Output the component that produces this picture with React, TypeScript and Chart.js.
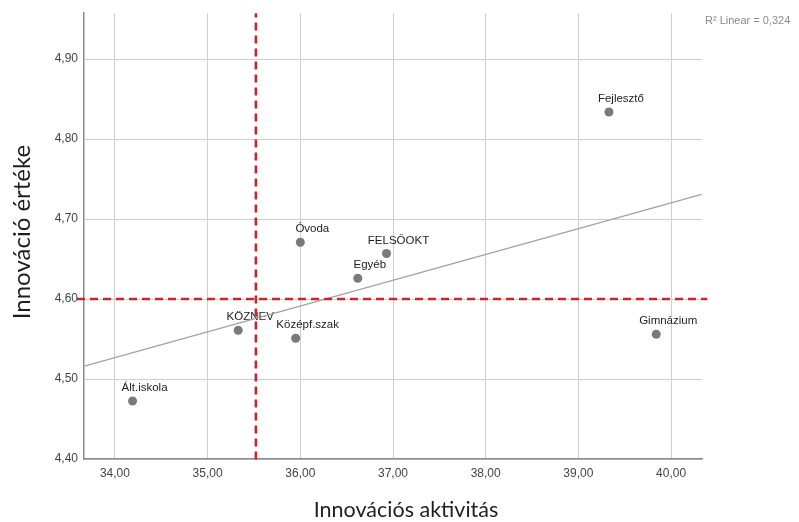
import React, { useEffect, useRef } from "react";
import { Chart, registerables } from "chart.js";

Chart.register(...registerables);

const groupLabels = ["Fejlesztő", "Óvoda", "FELSŐOKT", "Egyéb", "KÖZNEV", "Középf.szak", "Ált.iskola", "Gimnázium"];
const innovActivity = [39.33, 36.0, 36.93, 36.62, 35.33, 35.95, 34.19, 39.84];
const innovValue = [4.834, 4.671, 4.657, 4.626, 4.561, 4.551, 4.4725, 4.556];

const fitLineX = [33.67, 40.33];
const fitLineY = [4.516, 4.731];

const refMeanX = 35.52;
const refMeanY = 4.6;
const refLineYExtentX = [33.59, 40.39];
const refLineXExtentY = [4.3995, 4.9575];

const xTickValues = [34, 35, 36, 37, 38, 39, 40];
const yTickValues = [4.4, 4.5, 4.6, 4.7, 4.8, 4.9];
const xRange = [33.666, 40.334];
const yRange = [4.4, 4.9575];

const xTitle = "Innovációs aktivitás";
const yTitle = "Innováció értéke";
const r2Text = "R² Linear = 0,324";

const fmt = (v: number) => v.toFixed(2).replace(".", ",");

export default function App() {
  const ref = useRef<HTMLCanvasElement | null>(null);
  useEffect(() => {
    document.body.style.margin = "0";
    const canvas = ref.current!;
    const labelPlugin = {
      id: "labels",
      beforeDatasetsDraw(chart: any) {
        const ctx = chart.ctx;
        const meta = chart.getDatasetMeta(0);
        ctx.save();
        ctx.font = "11.5px 'Liberation Sans', Arial, sans-serif";
        ctx.fillStyle = "#222";
        ctx.textAlign = "center";
        ctx.textBaseline = "middle";
        meta.data.forEach((pt: any, i: number) => {
          ctx.fillText(groupLabels[i], pt.x + 12, pt.y - 13);
        });
        ctx.restore();
      },
      afterDraw(chart: any) {
        const ctx = chart.ctx;
        ctx.save();
        ctx.fillStyle = "#1e1e1e";
        ctx.textAlign = "center";
        ctx.textBaseline = "middle";
        ctx.font = "21.5px Lato, 'Open Sans', sans-serif";
        ctx.fillText(xTitle, 406, 510);
        ctx.save();
        ctx.translate(22, 232);
        ctx.rotate(-Math.PI / 2);
        ctx.font = "24px Lato, 'Open Sans', sans-serif";
        ctx.fillText(yTitle, 0, 0);
        ctx.restore();
        ctx.fillStyle = "#8a8a8a";
        ctx.font = "11px 'Liberation Sans', Arial, sans-serif";
        ctx.textAlign = "left";
        ctx.fillText(r2Text, 705, 21);
        ctx.restore();
      },
    };
    const chart = new Chart(canvas, {
      type: "scatter",
      data: {
        datasets: [
          {
            label: "groups",
            data: innovActivity.map((x, i) => ({ x, y: innovValue[i] })),
            backgroundColor: "#7a7a7a",
            borderWidth: 0,
            pointRadius: 4.5,
            order: 1,
          },
          {
            label: "fit",
            data: fitLineX.map((x, i) => ({ x, y: fitLineY[i] })),
            showLine: true,
            borderColor: "#a2a2a2",
            borderWidth: 1.3,
            pointRadius: 0,
            order: 3,
          },
          {
            label: "meanY",
            data: refLineYExtentX.map((x) => ({ x, y: refMeanY })),
            showLine: true,
            borderColor: "#c9252b",
            borderWidth: 2.5,
            borderDash: [8, 5],
            pointRadius: 0,
            clip: false as any,
            order: 0,
          },
          {
            label: "meanX",
            data: refLineXExtentY.map((y) => ({ x: refMeanX, y })),
            showLine: true,
            borderColor: "#c9252b",
            borderWidth: 2.5,
            borderDash: [8, 5],
            pointRadius: 0,
            clip: false as any,
            order: 0,
          },
        ],
      },
      options: {
        animation: false,
        responsive: false,
        layout: { padding: { top: 13, right: 97, left: 0, bottom: 0 } },
        plugins: { legend: { display: false }, tooltip: { enabled: false } },
        scales: {
          x: {
            type: "linear",
            min: xRange[0],
            max: xRange[1],
            afterBuildTicks: (s: any) => {
              s.ticks = xTickValues.map((v) => ({ value: v }));
            },
            afterFit: (s: any) => {
              s.height = 63;
            },
            grid: { color: "#cfcfcf", lineWidth: 1, drawTicks: false },
            border: { color: "#8c8c8c", width: 1.5 },
            ticks: {
              padding: 7,
              color: "#444",
              font: { family: "'Liberation Sans', Arial, sans-serif", size: 12 },
              callback: (v: any) => fmt(Number(v)),
              maxRotation: 0,
              autoSkip: false,
            },
          },
          y: {
            type: "linear",
            min: yRange[0],
            max: yRange[1],
            afterBuildTicks: (s: any) => {
              s.ticks = yTickValues.map((v) => ({ value: v }));
            },
            afterFit: (s: any) => {
              s.width = 84;
            },
            grid: { color: "#cfcfcf", lineWidth: 1, drawTicks: false },
            border: { color: "#8c8c8c", width: 1.5 },
            ticks: {
              padding: 6,
              color: "#444",
              font: { family: "'Liberation Sans', Arial, sans-serif", size: 12 },
              callback: (v: any) => fmt(Number(v)),
              autoSkip: false,
            },
          },
        },
      },
      plugins: [labelPlugin],
    });
    return () => chart.destroy();
  }, []);
  return (
    <div style={{ width: 799, height: 522, background: "#fff" }}>
      <canvas ref={ref} width={799} height={522} />
    </div>
  );
}
